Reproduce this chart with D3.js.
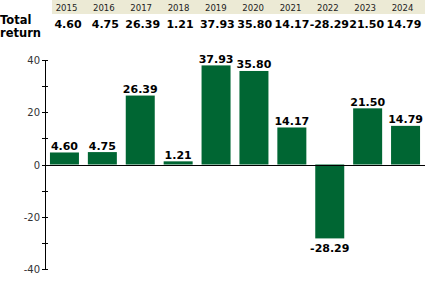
<!DOCTYPE html>
<html>
<head>
<meta charset="utf-8">
<script src="https://cdn.jsdelivr.net/npm/d3@7"></script>
<style>
  body { margin: 0; background: #fff; }
  svg { display: block; font-family: "DejaVu Sans", Verdana, sans-serif; }
  .years { font-family: "DejaVu Sans Condensed", "DejaVu Sans", sans-serif; font-stretch: condensed; }
</style>
</head>
<body>
<div id="chart"></div>
<script>
// Annual total return, %
const years = ["2015", "2016", "2017", "2018", "2019", "2020", "2021", "2022", "2023", "2024"];
const returns = [4.60, 4.75, 26.39, 1.21, 37.93, 35.80, 14.17, -28.29, 21.50, 14.79];
const majorTicks = [-40, -20, 0, 20, 40];
const minorTicks = [-30, -10, 10, 30];

const width = 425;
const height = 288;
const barColor = "#006633";

const svg = d3.select("#chart")
  .append("svg")
  .attr("width", width)
  .attr("height", height);

// bar columns
const x = d3.scaleBand()
  .domain(years)
  .range([45.5, 424.5])
  .paddingInner(0.235)
  .paddingOuter(0.1175);

// header table columns (slightly off the bars)
const hx = d3.scalePoint()
  .domain(years)
  .range([66.5, 402.5]);

const y = d3.scaleLinear()
  .domain([-40, 40])
  .range([269, 60]);

// header strip with years
svg.append("rect")
  .attr("x", 52)
  .attr("y", 0)
  .attr("width", width - 52)
  .attr("height", 14)
  .attr("fill", "#ecead5");

svg.append("g")
  .attr("class", "years")
  .selectAll("text")
  .data(years)
  .join("text")
  .attr("x", d => hx(d))
  .attr("y", 11)
  .attr("text-anchor", "middle")
  .attr("font-size", 9.5)
  .attr("fill", "#222")
  .text(d => d);

// total return row
svg.append("text")
  .attr("font-size", 11.5)
  .attr("font-weight", "bold")
  .selectAll("tspan")
  .data(["Total", "return"])
  .join("tspan")
  .attr("x", 0)
  .attr("y", (d, i) => 24 + i * 13)
  .text(d => d);

svg.append("g")
  .selectAll("text")
  .data(returns)
  .join("text")
  .attr("x", (d, i) => hx(years[i]) + 1.5)
  .attr("y", 28)
  .attr("text-anchor", "middle")
  .attr("font-size", 11)
  .attr("font-weight", "bold")
  .text(d => d.toFixed(2));

// bars
svg.append("g")
  .selectAll("rect")
  .data(returns)
  .join("rect")
  .attr("x", (d, i) => x(years[i]))
  .attr("y", d => y(Math.max(0, d)))
  .attr("width", x.bandwidth())
  .attr("height", d => Math.abs(y(d) - y(0)))
  .attr("fill", barColor);

// value labels
svg.append("g")
  .selectAll("text")
  .data(returns)
  .join("text")
  .attr("x", (d, i) => x(years[i]) + x.bandwidth() / 2)
  .attr("y", d => d >= 0 ? y(d) - 2.5 : y(d) + 14)
  .attr("text-anchor", "middle")
  .attr("font-size", 11)
  .attr("font-weight", "bold")
  .text(d => d.toFixed(2));

// y axis
const axis = svg.append("g").attr("stroke", "#000").attr("stroke-width", 1);
axis.append("line")
  .attr("x1", 45.5).attr("x2", 45.5)
  .attr("y1", y(40)).attr("y2", y(-40));
axis.selectAll("line.tick")
  .data(majorTicks.concat(minorTicks))
  .join("line")
  .attr("class", "tick")
  .attr("x1", 42).attr("x2", 48)
  .attr("y1", d => Math.round(y(d)) + 0.5)
  .attr("y2", d => Math.round(y(d)) + 0.5);

// zero line
svg.append("line")
  .attr("x1", 42).attr("x2", width)
  .attr("y1", Math.round(y(0)) + 0.5)
  .attr("y2", Math.round(y(0)) + 0.5)
  .attr("stroke", "#000");

svg.append("g")
  .selectAll("text")
  .data(majorTicks)
  .join("text")
  .attr("x", 40)
  .attr("y", d => Math.round(y(d)) + 4)
  .attr("text-anchor", "end")
  .attr("font-size", 10)
  .attr("fill", "#333")
  .text(d => d);
</script>
</body>
</html>
